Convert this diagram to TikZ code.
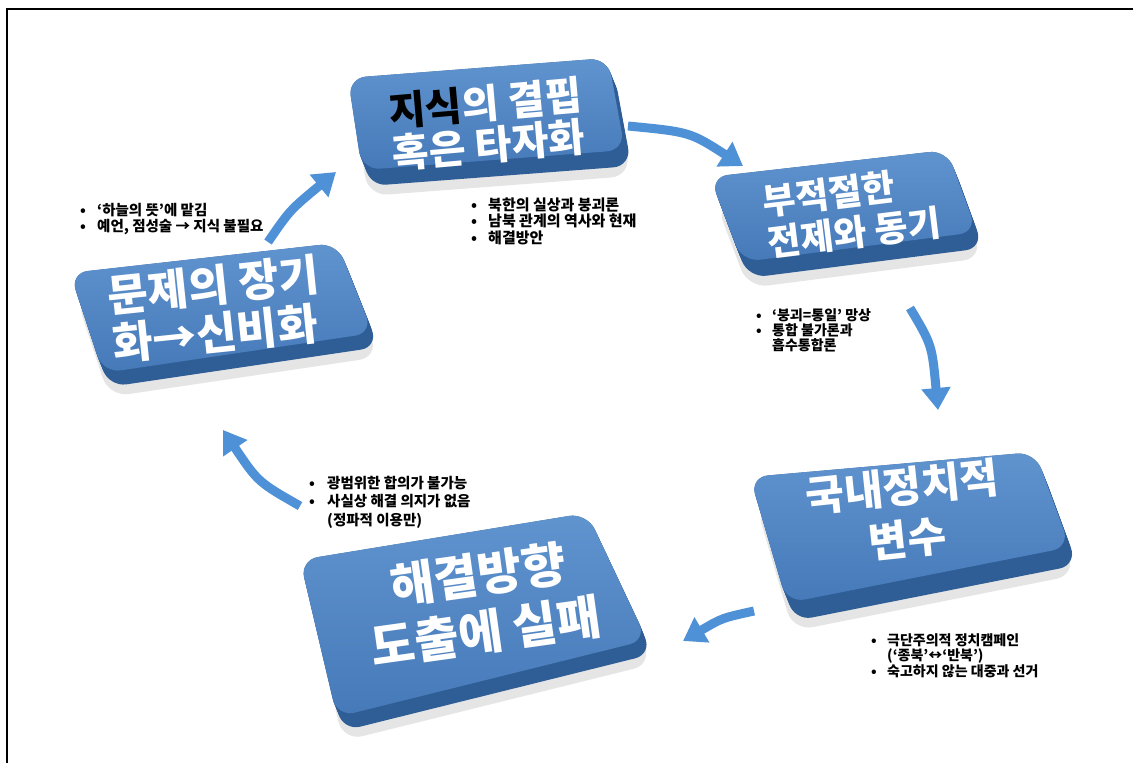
\documentclass[tikz,border=0pt]{standalone}
\usepackage{fontspec}
\newfontfamily\kr{Noto Sans CJK KR}
\usetikzlibrary{arrows.meta,calc}
\definecolor{boxhi}{HTML}{6094CF}
\definecolor{boxlo}{HTML}{4679B8}
\definecolor{boxside}{HTML}{2F5E96}
\definecolor{arrowblue}{HTML}{4F91D6}
\newcommand\card[5]{%
  \fill[black,opacity=.10,rounded corners=20pt,shift={(6,#5+10)}] #1 -- #2 -- #3 -- #4 -- cycle;
  \foreach \s in {0,1,...,8}{%
    \fill[boxside,rounded corners=18pt,shift={(0.05*#5*\s,#5*\s/8)}] #1 -- #2 -- #3 -- #4 -- cycle;}
  \shade[top color=boxhi,bottom color=boxlo,rounded corners=18pt] #1 -- #2 -- #3 -- #4 -- cycle;
}
\begin{document}
\begin{tikzpicture}[x=1pt,y=-1pt,
  bigtxt/.style={text=white,inner sep=0pt},
  note/.style={font=\kr\bfseries,align=left,anchor=base west,inner sep=0pt},
  arr/.style={line width=9pt,color=arrowblue,-{Triangle[width=28pt,length=22pt]}}]
\useasboundingbox (0,0) rectangle (1133,763);
\fill[white] (0,0) rectangle (1133,763);
\draw[line width=2.5pt] (7,763) -- (7,9) -- (1133,9);

% boxes
\card{(348,78)}{(608,58)}{(625,150)}{(362,170)}{16}
\card{(710,177)}{(947,150)}{(977,232)}{(742,262)}{16}
\card{(70,273)}{(337,243)}{(373,333)}{(103,373)}{14}
\card{(750,477)}{(1035,452)}{(1070,547)}{(787,603)}{18}
\card{(300,560)}{(587,513)}{(647,640)}{(337,717)}{14}

% box labels
\node[bigtxt,align=left,rotate=5,font=\kr\bfseries\fontsize{40}{42}\selectfont] (b1) at (487,124) {\textcolor{black}{지식}의 결핍\\혹은 타자화};
\node[bigtxt,align=left,rotate=7,font=\kr\bfseries\fontsize{36}{42}\selectfont] (b2) at (852,212) {부적절한\\전제와 동기};
\node[bigtxt,align=left,rotate=6,font=\kr\bfseries\fontsize{44}{48}\selectfont] (b3) at (216,309) {문제의 장기\\화→신비화};
\node[bigtxt,align=center,rotate=6,font=\kr\bfseries\fontsize{42}{52}\selectfont] (b4) at (905,513) {국내정치적\\변수};
\node[bigtxt,align=center,rotate=8,font=\kr\bfseries\fontsize{48}{58}\selectfont] (b5) at (482,603) {해결방향\\도출에 실패};

% arrows
\coordinate (a1s) at (268,242); \coordinate (a1e) at (336,172);
\coordinate (a2s) at (628,126); \coordinate (a2e) at (743,166);
\coordinate (a3s) at (910,308); \coordinate (a3e) at (938,410);
\coordinate (a4s) at (754,611); \coordinate (a4e) at (683,641);
\coordinate (a5s) at (300,506); \coordinate (a5e) at (223,430);
\draw[arr] (a1s) .. controls (290,210) .. (a1e);
\draw[arr] (a2s) .. controls (690,132) .. (a2e);
\draw[arr] (a3s) .. controls (932,345) .. (a3e);
\draw[arr] (a4s) .. controls (722,618) .. (a4e);
\draw[arr] (a5s) .. controls (258,482) .. (a5e);

% notes (anchor base = baseline of last line)
\node[note,font=\kr\bfseries\fontsize{15}{16.5}\selectfont] (n1) at (471,243) {\makebox[17pt][l]{•}북한의 실상과 붕괴론\\\makebox[17pt][l]{•}남북 관계의 역사와 현재\\\makebox[17pt][l]{•}해결방안};
\node[note,font=\kr\bfseries\fontsize{14.5}{15.5}\selectfont] (n2) at (80,231) {\makebox[17pt][l]{•}‘하늘의 뜻’에 맡김\\\makebox[17pt][l]{•}예언, 점성술 → 지식 불필요};
\node[note,font=\kr\bfseries\fontsize{14}{15}\selectfont] (n3) at (756,350) {\makebox[16pt][l]{•}‘붕괴=통일’ 망상\\\makebox[16pt][l]{•}통합 불가론과\\\makebox[16pt][l]{}흡수통합론};
\node[note,font=\kr\bfseries\fontsize{14.5}{18.5}\selectfont] (n4) at (309,525) {\makebox[18pt][l]{•}광범위한 합의가 불가능\\\makebox[18pt][l]{•}사실상 해결 의지가 없음\\\makebox[18pt][l]{}(정파적 이용만)};
\node[note,font=\kr\bfseries\fontsize{14}{15.5}\selectfont] (n5) at (871,676) {\makebox[16pt][l]{•}극단주의적 정치캠페인\\\makebox[16pt][l]{}(‘종북’↔‘반북’)\\\makebox[16pt][l]{•}숙고하지 않는 대중과 선거};
\end{tikzpicture}
\end{document}
